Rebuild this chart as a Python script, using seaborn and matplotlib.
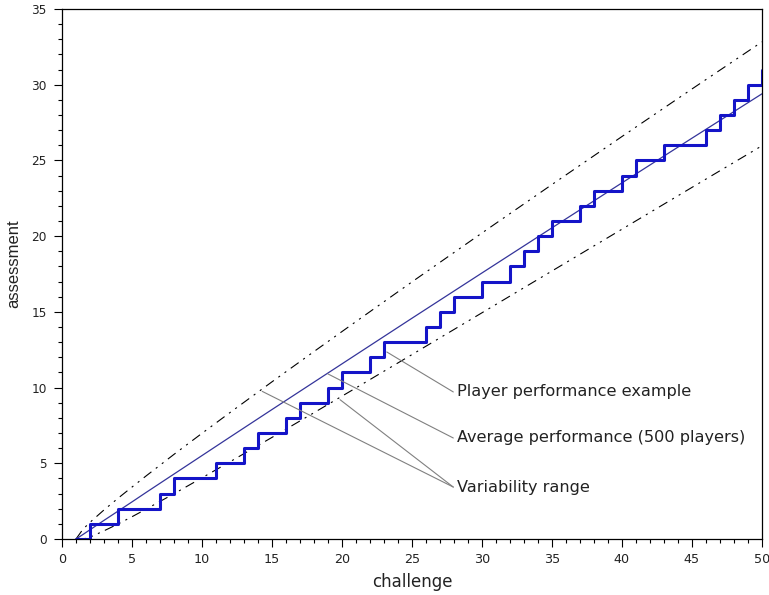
import numpy as np
import pandas as pd
import matplotlib
matplotlib.use("Agg")
import matplotlib.pyplot as plt
import seaborn as sns
from matplotlib.ticker import MultipleLocator

# ---------------- data ----------------
challenge = list(range(1, 51))
player_assessment = [0, 1, 1, 2, 2, 2, 3, 4, 4, 4,
                     5, 5, 6, 7, 7, 8, 9, 9, 10, 11,
                     11, 12, 13, 13, 13, 14, 15, 16, 16, 17,
                     17, 18, 19, 20, 21, 21, 22, 23, 23, 24,
                     25, 25, 26, 26, 26, 27, 28, 29, 30, 31]

curve_x = [1, 1.5, 2, 3, 4, 5, 6, 8, 10, 12, 15, 18, 21, 25, 30, 35, 40, 45, 50]
average = [0, 0.30, 0.61, 1.23, 1.84, 2.45, 3.07, 4.29, 5.51, 6.73, 8.55,
           10.36, 12.17, 14.58, 17.57, 20.55, 23.52, 26.47, 29.40]
upper = [0, 0.65, 1.10, 1.92, 2.69, 3.43, 4.16, 5.59, 6.98, 8.35, 10.38,
         12.38, 14.36, 16.98, 20.21, 23.41, 26.58, 29.72, 32.83]
lower = [0, 0.0, 0.12, 0.54, 0.99, 1.47, 1.97, 2.99, 4.04, 5.10, 6.71,
         8.34, 9.98, 12.18, 14.94, 17.70, 20.46, 23.22, 25.97]

label_texts = ["Player performance example",
               "Average performance (500 players)",
               "Variability range"]

x_ticks = [0, 5, 10, 15, 20, 25, 30, 35, 40, 45, 50]
y_ticks = [0, 5, 10, 15, 20, 25, 30, 35]

# ---------------- style ----------------
sns.set_theme(style="white")
plt.rcParams["font.family"] = ["DejaVu Sans"]
plt.rcParams["lines.scale_dashes"] = False

fig = plt.figure(figsize=(7.69, 5.95), dpi=100)
ax = fig.add_axes([62 / 769, 1 - 539 / 595, 700 / 769, 530 / 595])

step_df = pd.DataFrame({"challenge": challenge, "assessment": player_assessment})
curve_df = pd.DataFrame({"challenge": curve_x, "average": average,
                         "upper": upper, "lower": lower})

dashdot = (0, (7, 4, 1.5, 4, 1.5, 4))
sns.lineplot(data=curve_df, x="challenge", y="upper", ax=ax, color="black",
             lw=0.8, linestyle=dashdot, estimator=None, sort=False)
sns.lineplot(data=curve_df, x="challenge", y="lower", ax=ax, color="black",
             lw=0.8, linestyle=dashdot, estimator=None, sort=False)
sns.lineplot(data=curve_df, x="challenge", y="average", ax=ax, color="#34349a",
             lw=0.9, estimator=None, sort=False)
sns.lineplot(data=step_df, x="challenge", y="assessment", ax=ax, color="#1414c8",
             lw=2.2, drawstyle="steps-post", estimator=None, sort=False)

ax.set_xlim(0, 50)
ax.set_ylim(0, 35)
ax.set_xticks(x_ticks)
ax.set_yticks(y_ticks)
ax.xaxis.set_minor_locator(MultipleLocator(1))
ax.yaxis.set_minor_locator(MultipleLocator(1))
ax.tick_params(axis="both", which="major", direction="out", length=6, width=0.8,
               color="black", labelcolor="#222222", bottom=True, left=True,
               top=False, right=False)
ax.tick_params(axis="both", which="minor", direction="out", length=3, width=0.8,
               color="black", bottom=True, left=True, top=False, right=False)
ax.tick_params(axis="y", which="major", labelsize=8.7, pad=5)
ax.tick_params(axis="x", which="major", labelsize=9.2, pad=4)
for sp in ax.spines.values():
    sp.set_visible(True)
    sp.set_color("black")
    sp.set_linewidth(0.9)
ax.grid(False)

ax.set_xlabel("challenge", fontsize=12, color="#222222", labelpad=5)
ax.set_ylabel("assessment", fontsize=12, color="#222222",
              family=["Liberation Sans"])
ax.yaxis.set_label_coords(-(62 - 21) / 700, 0.52)

# ---------------- annotations ----------------
text_x = 28.2
text_y = [9.71, 6.67, 3.43]
line_end_x = 27.95
pointers = [[(23.2, 12.35)], [(19.0, 10.9)], [(14.3, 9.75), (19.86, 9.2)]]

for label, ty, pts in zip(label_texts, text_y, pointers):
    ax.text(text_x, ty, label, fontsize=11.6, color="#222222",
            ha="left", va="center")
    for (px, py) in pts:
        ax.annotate("", xy=(px, py), xytext=(line_end_x, ty),
                    arrowprops=dict(arrowstyle="-", color="#808080", lw=0.8,
                                    shrinkA=0, shrinkB=0))

fig.savefig("out.png", dpi=100, facecolor="white")
